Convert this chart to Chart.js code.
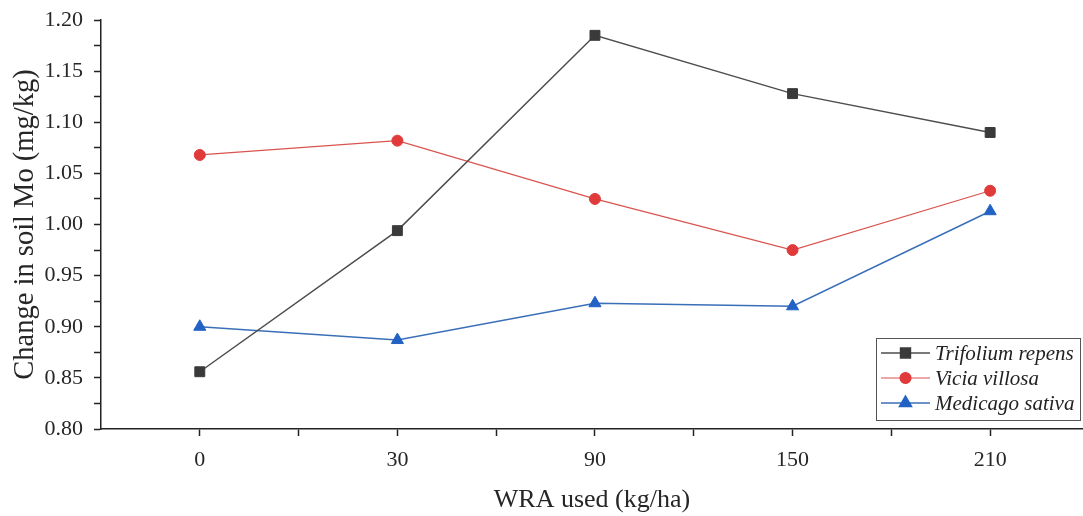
<!DOCTYPE html>
<html>
<head>
<meta charset="utf-8">
<script src="https://cdn.jsdelivr.net/npm/chart.js@4/dist/chart.umd.min.js"></script>
<style>
html,body{margin:0;padding:0;background:#fff;}
#wrap{width:1083px;height:516px;position:relative;}
</style>
</head>
<body>
<div id="wrap"><canvas id="c" width="1083" height="516"></canvas></div>
<script>
const categories = ['0', '30', '90', '150', '210'];
const seriesNames = ['Trifolium repens', 'Vicia villosa', 'Medicago sativa'];
const trifolium = [0.856, 0.994, 1.185, 1.128, 1.090];
const vicia = [1.068, 1.082, 1.025, 0.975, 1.033];
const medicago = [0.900, 0.887, 0.923, 0.920, 1.013];
const yTicks = [0.80, 0.85, 0.90, 0.95, 1.00, 1.05, 1.10, 1.15, 1.20];

const FONT = '"Liberation Serif", "Times New Roman", serif';
const toPts = arr => arr.map((v, i) => ({x: i, y: v}));

const legendPlugin = {
  id: 'boxLegend',
  afterDraw(chart) {
    const ctx = chart.ctx;
    const bx = 876, by = 338, bw = 204, bh = 82;
    ctx.save();
    ctx.fillStyle = '#ffffff';
    ctx.fillRect(bx, by, bw, bh);
    ctx.strokeStyle = '#555555';
    ctx.lineWidth = 1;
    ctx.strokeRect(bx + 0.5, by + 0.5, bw, bh);
    chart.data.datasets.forEach((ds, i) => {
      const y = by + 15 + i * 25;
      ctx.strokeStyle = ds.borderColor;
      ctx.lineWidth = ds.borderWidth;
      ctx.beginPath();
      ctx.moveTo(bx + 5, y);
      ctx.lineTo(bx + 54, y);
      ctx.stroke();
      ctx.fillStyle = ds.pointBackgroundColor;
      ctx.strokeStyle = ds.pointBorderColor;
      Chart.helpers.drawPoint(ctx, {pointStyle: ds.pointStyle, rotation: 0, radius: ds.pointRadius, borderWidth: 1}, bx + 29.5, y);
      ctx.fillStyle = '#222222';
      ctx.font = 'italic 21px ' + FONT;
      ctx.textBaseline = 'middle';
      ctx.textAlign = 'left';
      ctx.fillText(ds.label, bx + 59, y + 1);
    });
    ctx.restore();
  }
};

new Chart(document.getElementById('c'), {
  type: 'line',
  data: {
    datasets: [
      {label: seriesNames[0], data: toPts(trifolium), borderColor: '#4d4d4d', borderWidth: 1.5,
       pointStyle: 'rect', pointRadius: 7, pointBackgroundColor: '#3a3a3a', pointBorderColor: '#3a3a3a', pointBorderWidth: 1},
      {label: seriesNames[1], data: toPts(vicia), borderColor: '#d9534f', borderWidth: 1.2,
       pointStyle: 'circle', pointRadius: 5.5, pointBackgroundColor: '#e03a3a', pointBorderColor: '#e03a3a', pointBorderWidth: 1},
      {label: seriesNames[2], data: toPts(medicago), borderColor: '#3a6fb8', borderWidth: 1.5,
       pointStyle: 'triangle', pointRadius: 7, pointBackgroundColor: '#2262c4', pointBorderColor: '#2262c4', pointBorderWidth: 1}
    ]
  },
  options: {
    responsive: false,
    animation: false,
    devicePixelRatio: 1,
    layout: {autoPadding: false, padding: {top: 20, right: 0, left: 0, bottom: 0}},
    plugins: {legend: {display: false}, tooltip: {enabled: false}},
    scales: {
      x: {
        type: 'linear',
        min: -0.5,
        max: 4.47,
        afterFit(scale) { scale.height = 87; scale.paddingRight = 0; scale.paddingLeft = 0; },
        afterBuildTicks(scale) {
          const t = [];
          for (let k = 0; k <= 8; k++) t.push({value: k / 2});
          scale.ticks = t;
        },
        ticks: {
          autoSkip: false,
          maxRotation: 0,
          padding: 11,
          color: '#262626',
          font: {family: FONT, size: 22},
          callback: v => Number.isInteger(v) ? categories[v] : ''
        },
        grid: {drawOnChartArea: false, drawTicks: true, tickLength: 7, tickColor: '#222', tickWidth: 1.5},
        border: {color: '#222', width: 1.5},
        title: {display: true, text: 'WRA used (kg/ha)', color: '#262626', font: {family: FONT, size: 26}, padding: {top: 0, bottom: 0}}
      },
      y: {
        min: 0.80,
        max: 1.20,
        afterFit(scale) { scale.width = 101; scale.paddingTop = 0; scale.paddingBottom = 0; },
        afterBuildTicks(scale) {
          const t = [];
          for (let k = 0; k < yTicks.length; k++) {
            t.push({value: yTicks[k]});
            if (k < yTicks.length - 1) t.push({value: (yTicks[k] + yTicks[k + 1]) / 2});
          }
          scale.ticks = t;
        },
        ticks: {
          autoSkip: false,
          padding: 11,
          color: '#262626',
          font: {family: FONT, size: 22},
          callback: v => yTicks.some(t => Math.abs(t - v) < 1e-9) ? v.toFixed(2) : ''
        },
        grid: {drawOnChartArea: false, drawTicks: true, tickLength: 7, tickColor: '#222', tickWidth: 1.5},
        border: {color: '#222', width: 1.5},
        title: {display: true, text: 'Change in soil Mo (mg/kg)', color: '#262626', font: {family: FONT, size: 28.5}, padding: {top: 8, bottom: 0}}
      }
    }
  },
  plugins: [legendPlugin]
});
</script>
</body>
</html>
